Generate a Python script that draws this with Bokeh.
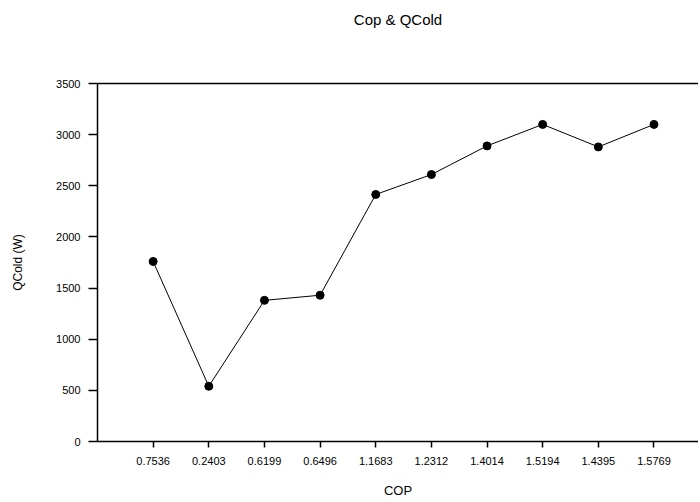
from bokeh.plotting import figure
from bokeh.models import FixedTicker, LinearAxis, Range1d
from bokeh.embed import file_html
from bokeh.resources import INLINE

# Data
title_text = "Cop & QCold"
cop_labels = ["0.7536", "0.2403", "0.6199", "0.6496", "1.1683",
              "1.2312", "1.4014", "1.5194", "1.4395", "1.5769"]
qcold = [1760, 540, 1380, 1430, 2415, 2610, 2890, 3100, 2880, 3100]
y_ticks = [0, 500, 1000, 1500, 2000, 2500, 3000, 3500]

positions = list(range(1, len(cop_labels) + 1))

FONT = "Liberation Sans"

p = figure(width=698, height=500, output_backend="svg", toolbar_location=None,
           x_range=Range1d(0, 10.8), y_range=Range1d(0, 3500),
           min_border_left=97, min_border_top=83, min_border_bottom=59,
           min_border_right=0)

p.outline_line_color = None
p.xgrid.grid_line_color = None
p.ygrid.grid_line_color = None
p.background_fill_color = "white"
p.border_fill_color = "white"

# x axis
xa = p.xaxis[0]
xa.ticker = FixedTicker(ticks=positions)
xa.major_label_overrides = {pos: lab for pos, lab in zip(positions, cop_labels)}
xa.axis_label = "COP"
xa.axis_label_text_font = FONT
xa.axis_label_text_font_size = "13px"
xa.axis_label_text_font_style = "normal"
xa.axis_label_text_color = "black"
xa.axis_label_standoff = 15
xa.major_label_text_font = FONT
xa.major_label_text_font_size = "11px"
xa.major_label_text_color = "black"
xa.major_label_standoff = 9
xa.major_tick_out = 6
xa.major_tick_in = 0
xa.minor_tick_line_color = None
xa.axis_line_width = 1.5
xa.major_tick_line_width = 1.5
xa.axis_line_color = "black"
xa.major_tick_line_color = "black"

# y axis
ya = p.yaxis[0]
ya.ticker = FixedTicker(ticks=y_ticks)
ya.axis_label = "QCold (W)"
ya.axis_label_text_font = FONT
ya.axis_label_text_font_size = "12px"
ya.axis_label_text_font_style = "normal"
ya.axis_label_text_color = "black"
ya.axis_label_standoff = 28
ya.major_label_text_font = FONT
ya.major_label_text_font_size = "11px"
ya.major_label_text_color = "black"
ya.major_label_standoff = 8
ya.major_tick_out = 9
ya.major_tick_in = 0
ya.minor_tick_line_color = None
ya.axis_line_width = 1.5
ya.major_tick_line_width = 1.5
ya.axis_line_color = "black"
ya.major_tick_line_color = "black"

# top frame line, carrying the chart title as its label
top = LinearAxis(ticker=FixedTicker(ticks=[]), axis_line_width=1.5,
                 axis_line_color="black", major_tick_line_color=None,
                 minor_tick_line_color=None,
                 axis_label=title_text, axis_label_text_font=FONT,
                 axis_label_text_font_size="15px",
                 axis_label_text_font_style="normal",
                 axis_label_text_color="black",
                 axis_label_standoff=56)
p.add_layout(top, "above")

p.line(positions, qcold, line_color="black", line_width=1)
p.scatter(positions, qcold, size=8, marker="circle",
          fill_color="black", line_color="black")

open("out.html", "w").write(file_html(p, INLINE))
